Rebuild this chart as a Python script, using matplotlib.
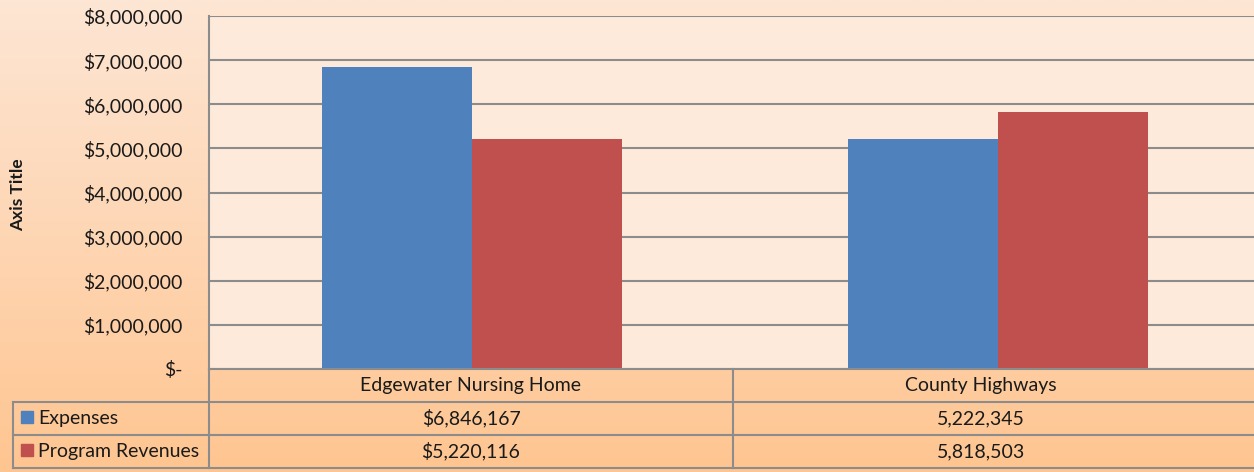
import numpy as np
import matplotlib.pyplot as plt
from matplotlib.colors import LinearSegmentedColormap
from matplotlib.lines import Line2D
from matplotlib.patches import Rectangle

# data
categories = ['Edgewater Nursing Home', 'County Highways']
series_names = ['Expenses', 'Program Revenues']
expenses = [6846167, 5222345]
revenues = [5220116, 5818503]
table_text = [['$6,846,167', '5,222,345'],
              ['$5,220,116', '5,818,503']]
yticks = [0, 1000000, 2000000, 3000000, 4000000, 5000000, 6000000, 7000000, 8000000]

colors = ['#4F81BD', '#C0504D']
grid_col = '#8C8C8C'
txt_col = '#1A1A1A'
plt.rcParams['font.family'] = ['Lato', 'DejaVu Sans']
fs = 14

W, H = 1254, 472
fig = plt.figure(figsize=(W / 100, H / 100), dpi=100)

# gradient background
bg = fig.add_axes([0, 0, 1, 1], zorder=-5)
cmap = LinearSegmentedColormap.from_list('bg', ['#FDE6D4', '#FED6B4', '#FFC590'])
grad = np.linspace(0, 1, 256).reshape(-1, 1)
bg.imshow(grad, aspect='auto', cmap=cmap, extent=[0, 1, 0, 1], origin='upper')
bg.set_xlim(0, 1)
bg.set_ylim(0, 1)
bg.axis('off')

# pixel helpers
def fx(px):
    return px / W

def fy(py):
    return 1 - py / H

x0, x1 = 209, 1261
ytop, ybot = 16, 369
ax = fig.add_axes([fx(x0), fy(ybot), fx(x1) - fx(x0), fy(ytop) - fy(ybot)])
ax.set_facecolor('#FDEADA')

x = np.arange(len(categories))
bw = 0.285
ax.bar(x - bw / 2, expenses, bw, color=colors[0], zorder=3)
ax.bar(x + bw / 2, revenues, bw, color=colors[1], zorder=3)

ax.set_xlim(-0.5, 1.5)
ax.set_ylim(0, 8000000)
ax.set_yticks(yticks)
ax.set_yticklabels(['$-'] + ['${:,.0f}'.format(v) for v in yticks[1:]],
                   fontsize=fs, color=txt_col)
ax.tick_params(axis='y', length=0, pad=19)
ax.set_xticks([])
ax.yaxis.grid(True, color=grid_col, linewidth=1.5, zorder=1)
ax.set_axisbelow(True)
for s in ['top', 'right', 'bottom']:
    ax.spines[s].set_visible(False)
ax.spines['left'].set_color(grid_col)
ax.spines['left'].set_linewidth(1.5)

fig.text(fx(18), fy(195), 'Axis Title', rotation=90, ha='center', va='center',
         fontsize=12.5, fontweight='bold', color=txt_col)

# data table under the plot
rows = [369, 402, 435, 468]
xl, xmid = 13, 733
lw = 1.5

def hline(y, xa, xb):
    fig.add_artist(Line2D([fx(xa), fx(xb)], [fy(y), fy(y)], color=grid_col, lw=lw))

def vline(xp, ya, yb):
    fig.add_artist(Line2D([fx(xp), fx(xp)], [fy(ya), fy(yb)], color=grid_col, lw=lw))

hline(rows[0], x0, W)
for y in rows[1:]:
    hline(y, xl, W)
vline(xl, rows[1], rows[3])
vline(x0, rows[0], rows[3])
vline(xmid, rows[0], rows[3])

col_centers = [(x0 + xmid) / 2, 981]
for j, c in enumerate(categories):
    fig.text(fx(col_centers[j]), fy((rows[0] + rows[1]) / 2), c, ha='center', va='center',
             fontsize=fs, color=txt_col)
for i, name in enumerate(series_names):
    yc = (rows[i + 1] + rows[i + 2]) / 2
    fig.add_artist(Rectangle((fx(21), fy(yc + 4)), fx(12), 12 / H,
                             color=colors[i], transform=fig.transFigure))
    fig.text(fx(38), fy(yc), name, ha='left', va='center', fontsize=fs, color=txt_col)
    for j in range(len(categories)):
        fig.text(fx(col_centers[j]), fy(yc), table_text[i][j], ha='center', va='center',
                 fontsize=fs, color=txt_col)

fig.savefig('out.png', dpi=100)
